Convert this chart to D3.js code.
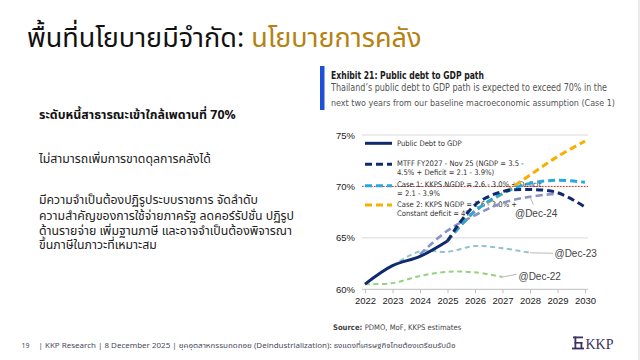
<!DOCTYPE html>
<html><head><meta charset="utf-8">
<script src="https://cdn.jsdelivr.net/npm/d3@7"></script>
<style>
html,body{margin:0;padding:0;background:#fff;}
svg{display:block;}
</style></head>
<body>
<svg id="c" width="640" height="360"></svg>
<script>
// ---- data ----
const years = [2022, 2023, 2024, 2025, 2026, 2027, 2028, 2029, 2030];
const yTicks = [60, 65, 70, 75];
const actualYears = [2022, 2023, 2024, 2025];
const actualDebt = [60.5, 62.3, 63.2, 64.7];
const mtffYears = [2025, 2026, 2027, 2028, 2029, 2030];
const mtffDebt = [64.7, 68.2, 69.5, 69.7, 69.4, 68.0];
const case1Years = [2025, 2026, 2027, 2028, 2029, 2030];
const case1Debt = [64.7, 67.6, 69.3, 70.3, 70.6, 70.4];
const case2Years = [2025, 2026, 2027, 2028, 2029, 2030];
const case2Debt = [64.7, 67.6, 69.3, 71.1, 72.9, 74.4];
const dec24Years = [2024, 2025, 2026, 2027, 2028, 2029];
const dec24Debt = [63.4, 65.7, 67.2, 68.4, 69.0, 69.3];
const dec23Years = [2023, 2024, 2025, 2026, 2027, 2028];
const dec23Debt = [62.3, 63.7, 63.65, 64.2, 64.0, 63.55];
const dec22Years = [2022, 2023, 2024, 2025, 2026, 2027];
const dec22Debt = [60.5, 60.6, 61.3, 61.7, 61.65, 61.2];
const ceiling = 70;
const legendLabels = [
  ["Public Debt to GDP"],
  ["MTFF FY2027 - Nov 25 (NGDP = 3.5 -", "4.5% + Deficit = 2.1 - 3.9%)"],
  ["Case 1: KKPS NGDP = 2.6 - 3.0% + Deficit", "= 2.1 - 3.9%"],
  ["Case 2: KKPS NGDP = 2.6 - 3.0% +", "Constant deficit = 4%"]
];
const bullets = [
  "ระดับหนี้สาธารณะเข้าใกล้เพดานที่ 70%",
  "ไม่สามารถเพิ่มการขาดดุลการคลังได้",
  "มีความจำเป็นต้องปฏิรูประบบราชการ จัดลำดับ",
  "ความสำคัญของการใช้จ่ายภาครัฐ ลดคอร์รัปชั่น ปฏิรูป",
  "ด้านรายจ่าย เพิ่มฐานภาษี และอาจจำเป็นต้องพิจารณา",
  "ขึ้นภาษีในภาวะที่เหมาะสม"
];

const svg = d3.select("#c");
const thai = "'Noto Sans Thai','Noto Sans','Noto Sans Thai Looped',sans-serif";
const arial = "'Liberation Sans',Arial,sans-serif";
const narrow = "'Liberation Sans Narrow','Arial Narrow','DejaVu Sans Condensed',sans-serif";

// slide edge
svg.append("line").attr("x1",639).attr("x2",639).attr("y1",0).attr("y2",360).attr("stroke","#d6d6d6").attr("stroke-width",1);

// title
const title = svg.append("text").attr("x",27).attr("y",47).attr("font-family",thai).attr("font-size",27);
title.append("tspan").attr("fill","#111").text("พื้นที่นโยบายมีจำกัด: ");
title.append("tspan").attr("fill","#b5820f").text("นโยบายการคลัง");

// left bullets
svg.append("text").attr("x",39).attr("y",119).attr("font-family",thai).attr("font-size",12.4).attr("font-weight","bold").attr("fill","#111").text(bullets[0]);
svg.append("text").attr("x",39).attr("y",163).attr("font-family",thai).attr("font-size",12.3).attr("fill","#222").text(bullets[1]);
[200,216.3,231,244.5].forEach((yy,i)=>{
  svg.append("text").attr("x",39).attr("y",yy+4).attr("font-family",thai).attr("font-size",12.3).attr("fill","#222").text(bullets[i+2]);
});

// exhibit header
svg.append("rect").attr("x",320).attr("y",66).attr("width",4.5).attr("height",44).attr("fill","#1f4fd6");
svg.append("text").attr("x",331).attr("y",79).attr("font-family",narrow).attr("font-weight","bold").attr("font-size",10.5).attr("fill","#1a1a1a")
  .attr("textLength",153).attr("lengthAdjust","spacingAndGlyphs").text("Exhibit 21: Public debt to GDP path");
svg.append("text").attr("x",331).attr("y",91).attr("font-family",narrow).attr("font-size",9.8).attr("fill","#555")
  .attr("textLength",276).attr("lengthAdjust","spacingAndGlyphs").text("Thailand’s public debt to GDP path is expected to exceed 70% in the");
svg.append("text").attr("x",331).attr("y",106).attr("font-family",narrow).attr("font-size",9.5).attr("fill","#555")
  .attr("textLength",284).attr("lengthAdjust","spacingAndGlyphs").text("next two years from our baseline macroeconomic assumption (Case 1)");

// scales
const x = d3.scaleLinear().domain([2022,2030]).range([365,585]);
const y = d3.scaleLinear().domain([60,75]).range([289.3,135]);

// gridlines
const g = svg.append("g");
g.selectAll("line.grid").data(yTicks.filter(d=>d>60)).join("line")
  .attr("x1",362).attr("x2",588).attr("y1",d=>y(d)).attr("y2",d=>y(d)).attr("stroke","#d9d9d9").attr("stroke-width",1);

// x axis
const xAxis = d3.axisBottom(x).tickValues(years).tickFormat(d3.format("d")).tickSize(4).tickPadding(4);
const xa = svg.append("g").attr("transform",`translate(0,${y(60)})`).call(xAxis);
xa.select(".domain").attr("stroke","#bfbfbf").attr("d",`M362,0H588`);
xa.selectAll(".tick line").attr("stroke","#bfbfbf");
xa.selectAll("text").attr("font-family",arial).attr("font-size",9.5).attr("fill","#222");

// y axis labels
const yAxis = d3.axisLeft(y).tickValues(yTicks).tickFormat(d=>d+"%").tickSize(0).tickPadding(0);
const ya = svg.append("g").attr("transform",`translate(355,0)`).call(yAxis);
ya.select(".domain").remove();
ya.selectAll("text").attr("font-family",arial).attr("font-size",9.5).attr("fill","#222");

// ceiling
svg.append("line").attr("x1",362).attr("x2",588).attr("y1",y(ceiling)).attr("y2",y(ceiling))
  .attr("stroke","#e3312b").attr("stroke-width",1).attr("stroke-dasharray","1.5,1.5");

// legend
const lg = svg.append("g");
const legendStyles = [
  {c:"#0f2a6e", w:3, d:null},
  {c:"#0f2a6e", w:3, d:"7,4"},
  {c:"#29a8e0", w:3, d:"7,4"},
  {c:"#f5b000", w:3, d:"7,4"}
];
const legendY = [143.3, 164.3, 185.7, 205];
legendLabels.forEach((lbl,i)=>{
  lg.append("line").attr("x1",365).attr("x2",392).attr("y1",legendY[i]).attr("y2",legendY[i])
    .attr("stroke",legendStyles[i].c).attr("stroke-width",legendStyles[i].w).attr("stroke-dasharray",legendStyles[i].d);
  lbl.forEach((t,j)=>{
    lg.append("text").attr("x",397).attr("y",legendY[i]+2.5 + (j===0 && lbl.length>1 ? -1 : 0) + j*8.2)
      .attr("font-family",narrow).attr("font-size",7.6).attr("fill","#333").text(t);
  });
});

// lines
const line = d3.line().x(d=>x(d[0])).y(d=>y(d[1])).curve(d3.curveCatmullRom.alpha(0.5));
function series(ys, vs, color, w, dash){
  svg.append("path").datum(ys.map((yr,i)=>[yr,vs[i]])).attr("d",line)
    .attr("fill","none").attr("stroke",color).attr("stroke-width",w).attr("stroke-dasharray",dash)
    .attr("stroke-linecap","butt");
}
series(dec22Years, dec22Debt, "#93d37e", 2, "5,3.5");
series(dec23Years, dec23Debt, "#8ec3cf", 2, "5,3.5");
series(dec24Years, dec24Debt, "#8795c6", 2.6, "7,4");
series(case2Years, case2Debt, "#f5b000", 3, "7,4");
series(case1Years, case1Debt, "#29a8e0", 3, "7,4");
series(mtffYears, mtffDebt, "#0f2a6e", 3, "7,4");
series(actualYears, actualDebt, "#0f2a6e", 3, null);

// vintage labels with leaders
const ann = [
  {yr:2028, v:dec24Debt[4], lx:533.3, ly:204.5, tx:515, ty:217, t:"@Dec-24"},
  {yr:2028, v:dec23Debt[5], lx:553, ly:253.3, tx:554.5, ty:257, t:"@Dec-23"},
  {yr:2027, v:dec22Debt[5], lx:516.5, ly:274.3, tx:518.5, ty:279.5, t:"@Dec-22"}
];
ann.forEach(a=>{
  svg.append("line").attr("x1",x(a.yr)).attr("y1",y(a.v)).attr("x2",a.lx).attr("y2",a.ly).attr("stroke","#a6a6a6").attr("stroke-width",0.8);
  svg.append("text").attr("x",a.tx).attr("y",a.ty).attr("font-family",arial).attr("font-size",10).attr("fill","#444").text(a.t);
});

// source
const src = svg.append("text").attr("x",333).attr("y",330).attr("font-family",narrow).attr("font-size",7.6).attr("fill","#444");
src.append("tspan").attr("font-weight","bold").text("Source: ");
src.append("tspan").text("PDMO, MoF, KKPS estimates");

// footer
svg.append("text").attr("x",21.5).attr("y",347.5).attr("font-family",thai).attr("font-size",7).attr("fill","#4a4a5a").text("19");
svg.append("text").attr("x",38.5).attr("y",347.5).attr("font-family",thai).attr("font-size",7.3).attr("fill","#4a4a5a")
  .attr("textLength",417).attr("lengthAdjust","spacingAndGlyphs")
  .text("| KKP Research | 8 December 2025 | ยุคอุตสาหกรรมถดถอย (Deindustrialization): ธงแดงที่เศรษฐกิจไทยต้องเตรียมรับมือ");

// logo
const logo = svg.append("g").attr("fill","#3b3160");
logo.append("rect").attr("x",573).attr("y",336.5).attr("width",10).attr("height",1.8);
logo.append("rect").attr("x",574.5).attr("y",336.5).attr("width",1.8).attr("height",12);
logo.append("rect").attr("x",574.5).attr("y",342).attr("width",8).attr("height",1.6);
logo.append("rect").attr("x",580.5).attr("y",342).attr("width",1.8).attr("height",6.5);
logo.append("rect").attr("x",572).attr("y",347.6).attr("width",12).attr("height",1.8);
svg.append("text").attr("x",585.5).attr("y",348.5).attr("font-family","'Liberation Serif',serif").attr("font-size",14).attr("fill","#3b3160").text("KKP");
</script>
</body></html>
